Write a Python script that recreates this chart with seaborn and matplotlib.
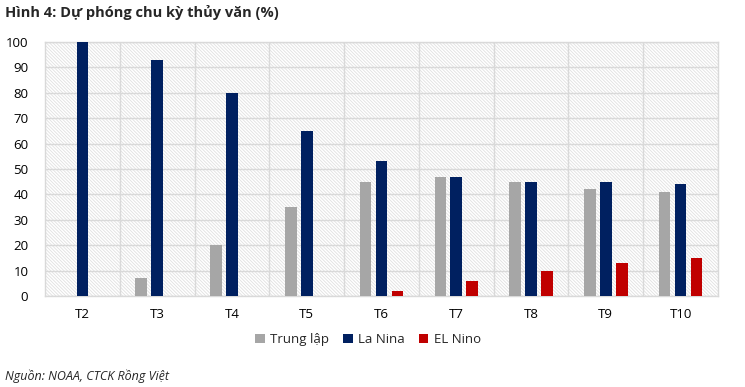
import pandas as pd
import seaborn as sns
import matplotlib.pyplot as plt
from matplotlib.patches import Rectangle

# Chart data
months = ['T2', 'T3', 'T4', 'T5', 'T6', 'T7', 'T8', 'T9', 'T10']
trung_lap = [0, 7, 20, 35, 45, 47, 45, 42, 41]
la_nina = [100, 93, 80, 65, 53, 47, 45, 45, 44]
el_nino = [0, 0, 0, 0, 2, 6, 10, 13, 15]
series = ['Trung lập', 'La Nina', 'EL Nino']
colors = ['#A6A6A6', '#002060', '#C00000']

df = pd.DataFrame({'month': months * 3,
                   'value': trung_lap + la_nina + el_nino,
                   'series': [s for s in series for _ in months]})

sns.set_style('white')
plt.rcParams['font.family'] = ['Open Sans', 'DejaVu Sans']
plt.rcParams['hatch.linewidth'] = 0.6

fig = plt.figure(figsize=(7.45, 3.87), dpi=100)
ax = fig.add_axes([45 / 745, 1 - 296 / 387, 673 / 745, 254 / 387])

# hatched background of the plot area (fine diagonal lines)
ax.add_patch(Rectangle((0, 0), 1, 1, transform=ax.transAxes, facecolor='white',
                       edgecolor='#e0e0e0', linewidth=0, hatch='\\' * 10, zorder=0))

sns.barplot(data=df, x='month', y='value', hue='series', palette=colors,
            saturation=1, width=0.64, gap=0.27, linewidth=0, ax=ax, zorder=3,
            legend=True)

ax.set_ylim(0, 100)
ax.set_xlim(-0.5, len(months) - 0.5)
ax.set_yticks(range(0, 101, 10))
ax.set_xticks([i + 0.5 for i in range(len(months) - 1)], minor=True)
ax.grid(axis='y', which='major', color='#d9d9d9', lw=1, zorder=1)
ax.grid(axis='x', which='minor', color='#d9d9d9', lw=1, zorder=1)
ax.grid(axis='x', which='major', visible=False)
ax.set_axisbelow(True)
for sp in ax.spines.values():
    sp.set_color('#d9d9d9')
    sp.set_linewidth(1)
ax.tick_params(axis='both', which='both', length=0, labelsize=9.5, colors='black')
ax.tick_params(axis='y', pad=12)
ax.tick_params(axis='x', pad=9)
ax.set_xlabel('')
ax.set_ylabel('')

ax.legend(loc='upper center', bbox_to_anchor=(0.48, -0.1), ncol=3, frameon=False,
          fontsize=9.5, handlelength=0.7, handleheight=0.7, handletextpad=0.4,
          columnspacing=1.1)

fig.text(5 / 745, 1 - 12 / 387, 'Hình 4: Dự phóng chu kỳ thủy văn (%)', fontsize=10.5,
         fontweight='bold', va='center', ha='left')
fig.text(5 / 745, 1 - 376 / 387, 'Nguồn: NOAA, CTCK Rồng Việt', fontsize=9,
         fontstyle='italic', va='center', ha='left')

fig.savefig('out.png', dpi=100)
